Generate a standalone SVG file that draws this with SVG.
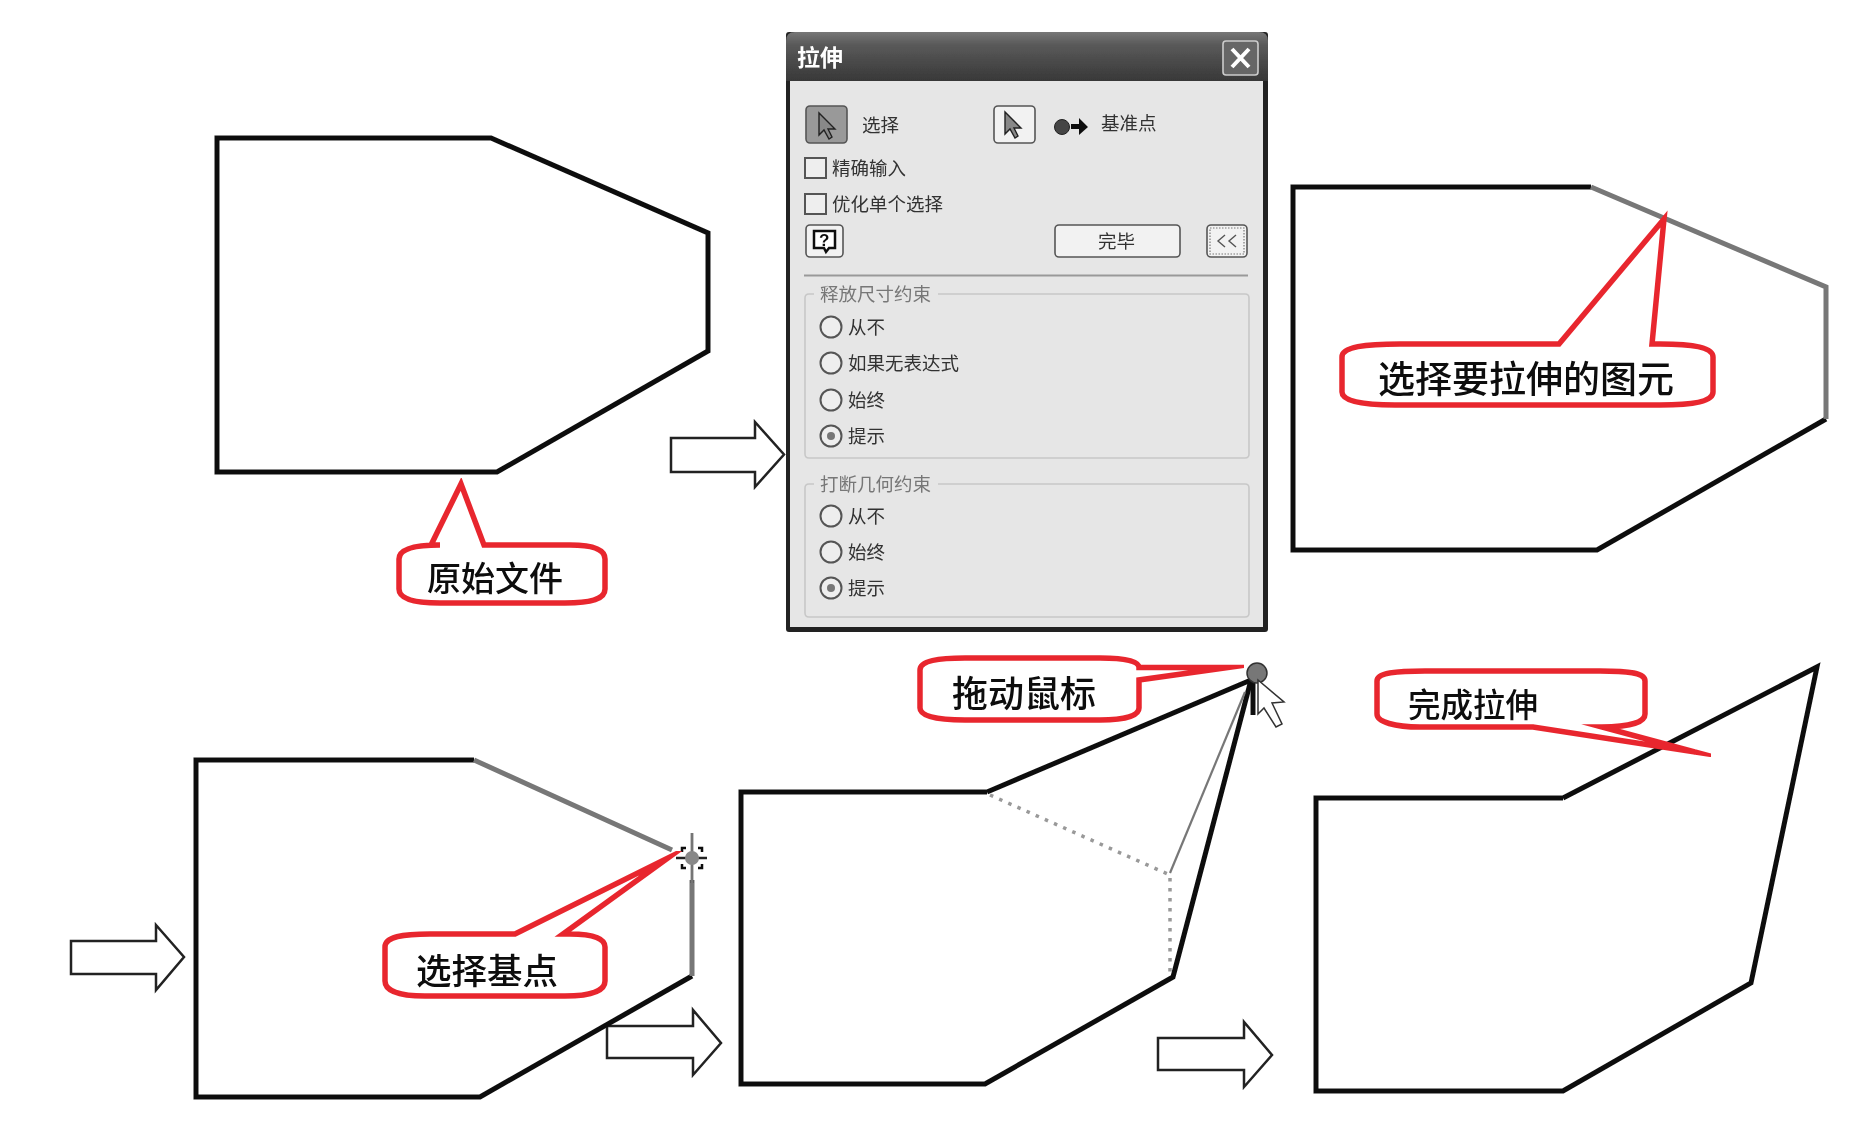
<svg xmlns="http://www.w3.org/2000/svg" width="1863" height="1130" viewBox="0 0 1863 1130">
<style>
text{font-family:"Noto Sans CJK SC","Liberation Sans",sans-serif}
.s{fill:none;stroke:#111;stroke-width:5;stroke-linejoin:miter}
.g{fill:none;stroke:#777;stroke-width:5;stroke-linejoin:miter}
.d{fill:none;stroke:#999;stroke-width:3.500;stroke-dasharray:3.5 6.5}
.a{fill:#fff;stroke:#222;stroke-width:2.5;stroke-linejoin:miter}
.c{fill:#fff;stroke:#e8282f;stroke-width:5.500;stroke-linejoin:miter;stroke-miterlimit:40}
.t{font-size:34px;fill:#0a0a0a;font-weight:500}
.u{font-size:18.5px;fill:#333}
.v{font-size:18.5px;fill:#777}
.b{fill:#f2f2f2;stroke:#555;stroke-width:1.6}
.r{fill:#eee;stroke:#555;stroke-width:2}
.f{fill:none;stroke:#c8c8c8;stroke-width:1.6}
.p{fill:#888;stroke:#222;stroke-width:1.4}
</style>
<defs>
<linearGradient id="tb" x1="0" y1="0" x2="0" y2="1"><stop offset="0" stop-color="#777"/><stop offset=".25" stop-color="#5a5a5a"/><stop offset="1" stop-color="#383838"/></linearGradient>
<filter id="bl" x="-5%" y="-5%" width="110%" height="110%"><feGaussianBlur stdDeviation="0.6"/></filter>
<filter id="bs" x="-5%" y="-5%" width="110%" height="110%"><feGaussianBlur stdDeviation="0.4"/></filter>
</defs>
<rect width="1863" height="1130" fill="#fff"/>

<g id="connectors" filter="url(#bs)">
<path class="a" d="M671 438H755V422L784 454.500L755 487V472H671Z"/>
<path class="a" d="M71 941H156V925L184 957L156 990V974H71Z"/>
<path class="a" d="M607 1026H693V1010L721 1043L693 1075V1058H607Z"/>
<path class="a" d="M1158 1038H1244V1022L1272 1055L1244 1087V1070H1158Z"/>
</g>

<g id="shape-original" filter="url(#bs)"><path class="s" d="M217 138H491L708 233V351L497 472H217Z"/></g>

<g id="callout-original" filter="url(#bs)">
<path class="c" d="M399 559C399 548 418 545 440 545H431L461 484L484 545H570C594 545 605 550 605 559V589C605 599 592 603 565 603H440C414 603 399 599 399 589Z"/>
<text class="t" x="427" y="591">原始文件</text>
</g>

<g id="dialog" filter="url(#bl)">
<rect x="786" y="32" width="482" height="600" rx="3" fill="#222"/>
<rect x="790" y="81" width="473" height="546" fill="#e6e6e6"/>
<path d="M786 81V41Q786 32 795 32H1259Q1268 32 1268 41V81Z" fill="url(#tb)"/>
<text x="797" y="66" font-size="23" font-weight="700" fill="#fff">拉伸</text>
<rect x="1223" y="41" width="35" height="34" rx="3" fill="#666" stroke="#ccc" stroke-width="1.6"/>
<path d="M1232 49L1249 67M1249 49L1232 67" stroke="#fff" stroke-width="4" fill="none"/>
<rect x="806" y="106" width="41" height="37" rx="4" fill="#999" stroke="#555" stroke-width="1.6"/>
<path class="p" d="M819 113V135L824 130L829 139L832 137L828 129H835Z"/>
<text class="u" x="862" y="132">选择</text>
<rect class="b" x="994" y="106" width="41" height="37" rx="4"/>
<path class="p" d="M1005 112V134L1010 129L1015 138L1018 136L1014 128H1021Z"/>
<circle cx="1062" cy="127" r="7.500" fill="#444" stroke="#222"/>
<path d="M1071 124H1079V118L1088 127L1079 135V129H1071Z" fill="#111"/>
<text class="u" x="1101" y="130">基准点</text>
<rect class="r" x="805" y="158" width="21" height="20" stroke-width="1.6"/>
<text class="u" x="832" y="175">精确输入</text>
<rect class="r" x="805" y="194" width="21" height="20" stroke-width="1.6"/>
<text class="u" x="832" y="211">优化单个选择</text>
<rect class="b" x="806" y="225" width="37" height="32" rx="4"/>
<path d="M814 231H835V248H829L826 252L824 248H814Z" fill="#fff" stroke="#111" stroke-width="2.500"/>
<text x="819" y="246" font-size="17" font-weight="700" fill="#111" style="font-family:'Liberation Sans',sans-serif">?</text>
<rect class="b" x="1055" y="225" width="125" height="32" rx="4"/>
<text class="u" x="1098" y="248">完毕</text>
<rect class="b" x="1207" y="225" width="40" height="32" rx="4"/>
<rect x="1210" y="228" width="34" height="26" fill="none" stroke="#777" stroke-width="1.200" stroke-dasharray="1.500 1.500"/>
<path d="M1225 235L1218 241L1225 247M1236 235L1229 241L1236 247" fill="none" stroke="#555" stroke-width="1.400"/>
<path d="M804 275.500H1248" stroke="#999" stroke-width="1.800"/>

<path class="f" d="M814 294H809Q805 294 805 298V454Q805 458 809 458H1245Q1249 458 1249 454V298Q1249 294 1245 294H938"/>
<text class="v" x="820" y="301">释放尺寸约束</text>
<circle class="r" cx="831" cy="327" r="10.500"/><text class="u" x="848" y="334" fill="#555">从不</text>
<circle class="r" cx="831" cy="363" r="10.500"/><text class="u" x="848" y="370">如果无表达式</text>
<circle class="r" cx="831" cy="400" r="10.500"/><text class="u" x="848" y="407">始终</text>
<circle class="r" cx="831" cy="436" r="10.500"/><circle cx="831" cy="436" r="4" fill="#777"/><text class="u" x="848" y="443">提示</text>

<path class="f" d="M814 484H809Q805 484 805 488V613Q805 617 809 617H1245Q1249 617 1249 613V488Q1249 484 1245 484H938"/>
<text class="v" x="820" y="491">打断几何约束</text>
<circle class="r" cx="831" cy="516" r="10.500"/><text class="u" x="848" y="523">从不</text>
<circle class="r" cx="831" cy="552" r="10.500"/><text class="u" x="848" y="559">始终</text>
<circle class="r" cx="831" cy="588" r="10.500"/><circle cx="831" cy="588" r="4" fill="#777"/><text class="u" x="848" y="595">提示</text>
</g>

<g id="shape-select" filter="url(#bs)">
<path class="s" d="M1591 187H1293V550H1597L1826 419"/>
<path class="g" d="M1591 187L1826 287V419"/>
</g>

<g id="callout-select" filter="url(#bs)">
<path class="c" d="M1342 357C1342 347 1365 344 1400 344H1559L1664 219L1652 344H1660C1695 344 1713 348 1713 357V392C1713 401 1695 405 1660 405H1395C1362 405 1342 401 1342 392Z"/>
<text class="t" x="1378" y="393" style="font-size:37px">选择要拉伸的图元</text>
</g>

<g id="shape-base" filter="url(#bs)">
<path class="s" d="M474 760H196V1097H480L692 976"/>
<path class="g" d="M474 760L672 850M692 880V976"/>
<path d="M676 858H707M692 833V883" stroke="#222" stroke-width="2.500" fill="none"/>
<path d="M682 852V848H686M698 848H702V852M682 864V868H686M698 868H702V864" stroke="#111" stroke-width="2.500" fill="none"/>
<path d="M692 833V883" stroke="#999" stroke-width="2" opacity=".7"/>
<circle cx="692" cy="858" r="7" fill="#888"/>
</g>

<g id="callout-base" filter="url(#bs)">
<path class="c" d="M385 947C385 937 402 934 430 934H515L668 858L563 934H570C594 934 605 939 605 947V981C605 991 590 996 565 996H425C400 996 385 991 385 981Z"/>
<text class="t" x="416" y="984" style="font-size:35.500px">选择基点</text>
</g>

<g id="shape-drag" filter="url(#bs)">
<path class="s" d="M987 792H741V1084H985L1173 977L1251 680L987 792"/>
<path d="M1253 680V715" stroke="#111" stroke-width="5" fill="none"/>
<path class="d" d="M990 795L1170 875V973"/>
<path d="M1170 873L1245 692" stroke="#777" stroke-width="2.200" fill="none"/>
<circle cx="1257" cy="673" r="10" fill="#777" stroke="#333" stroke-width="1.500"/>
<path d="M1258 680L1284 702L1272 703L1282 724L1276 727L1264 708L1258 714Z" fill="#fff" stroke="#333" stroke-width="1.500"/>
</g>

<g id="callout-drag" filter="url(#bs)">
<path class="c" d="M920 670C920 661 938 658 965 658H1100C1125 658 1139 661 1139 667.500H1228L1139 680V708C1139 716 1125 720 1100 720H965C935 720 920 716 920 708Z"/>
<text class="t" x="952" y="707" style="font-size:36px">拖动鼠标</text>
</g>

<g id="shape-result" filter="url(#bs)"><path class="s" d="M1563 798H1316V1091H1563L1751 983L1817 667L1563 798"/></g>

<g id="callout-result" filter="url(#bs)">
<path class="c" d="M1377 681C1377 673 1395 671 1425 671H1600C1630 671 1645 673 1645 681V714C1645 722 1630 727 1602 727L1695 752L1533 727H1420C1395 727 1377 722 1377 714Z"/>
<text class="t" x="1408" y="717" style="font-size:32.500px">完成拉伸</text>
</g>
</svg>
